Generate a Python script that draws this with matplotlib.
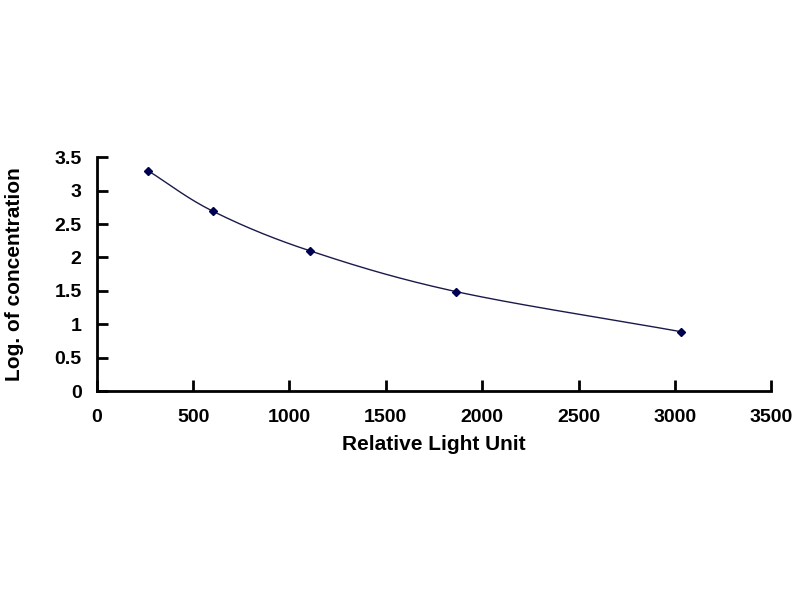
import numpy as np
import matplotlib
matplotlib.use('Agg')
import matplotlib.pyplot as plt

# standard curve
rlu = [265, 604, 1106, 1864, 3032]
log_conc = [3.30, 2.69, 2.10, 1.49, 0.89]

x_ticks = [0, 500, 1000, 1500, 2000, 2500, 3000, 3500]
y_ticks = [0, 0.5, 1, 1.5, 2, 2.5, 3, 3.5]
y_tick_labels = ['0', '0.5', '1', '1.5', '2', '2.5', '3', '3.5']


def smooth(xs, ys, n=40):
    # Catmull-Rom through the points, like a spreadsheet "smoothed line"
    p = np.column_stack([xs, ys]).astype(float)
    p = np.vstack([2 * p[0] - p[1], p, 2 * p[-1] - p[-2]])
    t = np.linspace(0, 1, n)[:, None]
    out = []
    for i in range(1, len(p) - 2):
        p0, p1, p2, p3 = p[i - 1], p[i], p[i + 1], p[i + 2]
        seg = 0.5 * ((2 * p1) + (-p0 + p2) * t + (2 * p0 - 5 * p1 + 4 * p2 - p3) * t ** 2
                     + (-p0 + 3 * p1 - 3 * p2 + p3) * t ** 3)
        out.append(seg)
    out = np.vstack(out)
    return out[:, 0], out[:, 1]


plt.rcParams['font.family'] = ['Liberation Sans', 'DejaVu Sans']

fig = plt.figure(figsize=(8, 6), dpi=100)
ax = fig.add_axes([0.121, 0.348, 0.843, 0.390])

sx, sy = smooth(rlu, log_conc)
ax.plot(sx, sy, color='#1a1a4a', linewidth=1.0)
ax.plot(rlu, log_conc, linestyle='none', marker='D', markersize=4.5,
        color='#000050')

ax.set_xlim(0, 3500)
ax.set_ylim(0, 3.5)
ax.set_xticks(x_ticks)
ax.set_yticks(y_ticks)
ax.set_yticklabels(y_tick_labels)

for side in ['top', 'right']:
    ax.spines[side].set_visible(False)
for side in ['left', 'bottom']:
    ax.spines[side].set_linewidth(2)
    ax.spines[side].set_color('black')

ax.tick_params(direction='in', length=8, width=2, labelsize=14)
for lab in ax.get_xticklabels() + ax.get_yticklabels():
    lab.set_fontweight('bold')
ax.tick_params(axis='x', pad=13)
ax.tick_params(axis='y', pad=11)

ax.set_xlabel('Relative Light Unit', fontsize=15, fontweight='bold', labelpad=6)
ax.set_ylabel('Log. of concentration', fontsize=15, fontweight='bold', labelpad=22)

fig.savefig('out.png', dpi=100)
